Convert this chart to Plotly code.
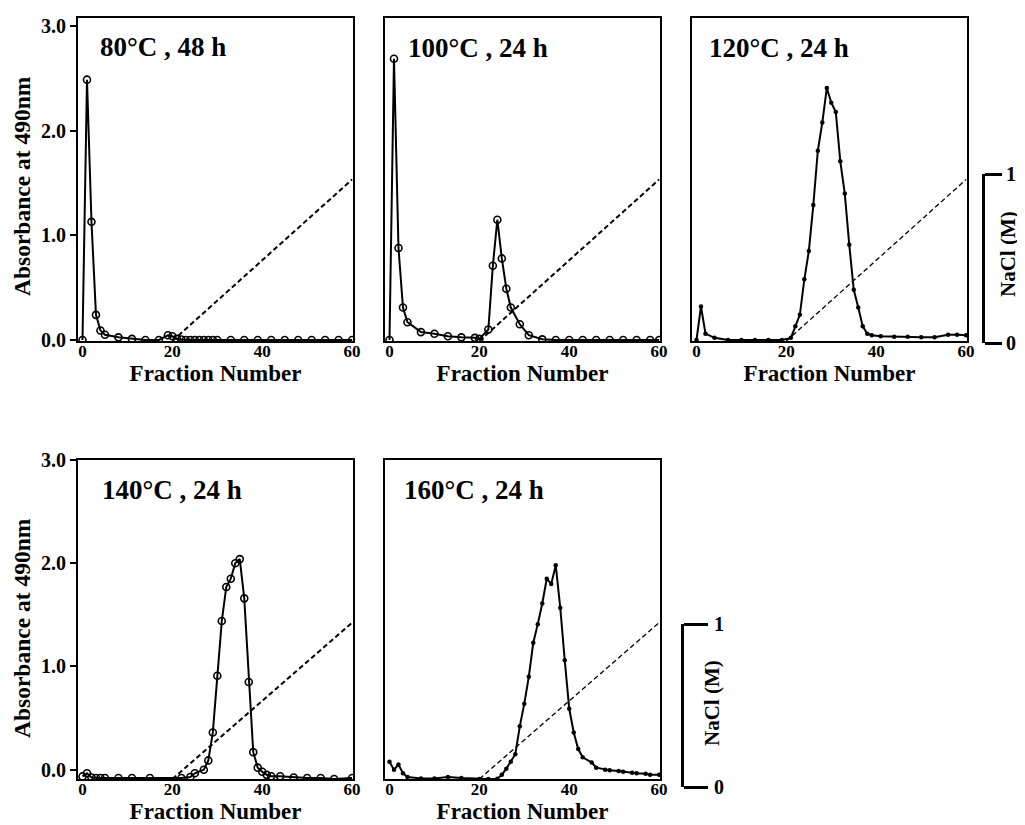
import plotly.graph_objects as go

# ---------------- data ----------------
titles = ["80°C , 48 h", "100°C , 24 h", "120°C , 24 h", "140°C , 24 h", "160°C , 24 h"]

f1 = [0, 1, 2, 3, 4, 5, 8, 11, 14, 17, 19, 20, 21, 22, 23, 24, 25, 26, 27, 28, 29, 30,
      33, 36, 39, 42, 45, 48, 51, 54, 57, 60]
a1 = [0.0, 2.49, 1.13, 0.24, 0.09, 0.05, 0.025, 0.01, 0.0, 0.0, 0.045, 0.035, 0.01, 0.005,
      0.0, 0.0, 0.0, 0.0, 0.0, 0.0, 0.0, 0.0, 0.0, 0.0, 0.0, 0.0, 0.0, 0.0, 0.0, 0.0, 0.0, 0.0]

f2 = [0, 1, 2, 3, 4, 7, 10, 13, 16, 19, 20, 22, 23, 24, 25, 26, 27, 29, 31, 34,
      37, 40, 43, 46, 49, 52, 55, 58, 60]
a2 = [0.0, 2.69, 0.88, 0.31, 0.17, 0.075, 0.06, 0.035, 0.025, 0.02, 0.01,
      0.10, 0.71, 1.15, 0.78, 0.49, 0.31, 0.15, 0.045, 0.006,
      0.0, 0.0, 0.0, 0.0, 0.0, 0.0, 0.0, 0.0, 0.0]

f3 = [0, 1, 2, 4, 7, 10, 13, 16, 19, 21, 22, 23, 24, 25, 26, 27, 28, 29, 30, 31, 32, 33,
      34, 35, 36, 37, 38, 39, 41, 44, 47, 50, 53, 56, 58, 60]
a3 = [0.0, 0.32, 0.06, 0.02, 0.0, 0.0, 0.0, 0.0, 0.0,
      0.02, 0.13, 0.24, 0.58, 0.85, 1.29, 1.81, 2.08, 2.41, 2.27, 2.18, 1.71, 1.40,
      0.91, 0.48, 0.31, 0.13, 0.06, 0.045,
      0.036, 0.03, 0.03, 0.025, 0.025, 0.05, 0.05, 0.045]

f4 = [0, 1, 2, 3, 4, 5, 8, 11, 15, 22, 24, 25, 27, 28, 29, 30, 31, 32, 33, 34, 35, 36,
      37, 38, 39, 40, 41, 42, 44, 47, 50, 53, 56, 60]
a4 = [-0.065, -0.035, -0.075, -0.08, -0.08, -0.08, -0.08, -0.08, -0.08, -0.08,
      -0.07, -0.035, 0.0, 0.09, 0.36, 0.91, 1.44, 1.77, 1.85, 2.0, 2.04, 1.66,
      0.85, 0.17, 0.02, -0.02, -0.05, -0.064, -0.064, -0.075, -0.08, -0.08, -0.09, -0.08]

f5 = [0, 1, 2, 3, 4, 7, 10, 13, 16, 20, 22, 24, 25, 26, 27, 28, 29, 30, 31, 32, 33, 34,
      35, 36, 37, 38, 39, 40, 41, 42, 43, 45, 46, 48, 49, 51, 52, 54, 55, 57, 58, 60]
a5 = [0.076, 0.0, 0.05, -0.035, -0.07, -0.085, -0.085, -0.07, -0.08, -0.09, -0.09,
      -0.087, -0.05, 0.01, 0.076, 0.15, 0.42, 0.64, 0.90, 1.23, 1.41, 1.61, 1.85,
      1.80, 1.98, 1.57, 1.06, 0.59, 0.36, 0.20, 0.12,
      0.07, 0.02, 0.0, -0.006, -0.012, -0.02, -0.03, -0.035, -0.04, -0.05, -0.05]

# NaCl linear gradient (fraction number -> M)
grad_frac = [20, 60]
grad_nacl = [0, 1]

x_ticks = [0, 20, 40, 60]
y_ticks = [0, 1, 2, 3]
y_ticktext = ["0.0", "1.0", "2.0", "3.0"]
nacl_ticks = [0, 1]
nacl_ticktext = ["0", "1"]

fracs = [f1, f2, f3, f4, f5]
absb = [a1, a2, a3, a4, a5]
marker_open = [True, True, False, True, False]
dash_w = [2, 2, 1.3, 2, 1.3]

# ---------------- layout geometry ----------------
# the page body has an 8px margin, so the figure is drawn from (8, 8)
OFF = 8
W, H = 1025 - OFF, 825 - OFF
def px_x(p): return (p - OFF) / W
def px_y(p): return 1 - (p - OFF) / H

col_dom = [(78, 353), (385, 660), (692, 967)]
top_row = (18, 341)
bot_row = (460, 779)
panel_pos = [(0, top_row), (1, top_row), (2, top_row), (0, bot_row), (1, bot_row)]

FONT = "Liberation Serif"
fig = go.Figure()

for i in range(5):
    n = i + 1
    xa = "x" if n == 1 else f"x{n}"
    ya = "y" if n == 1 else f"y{n}"
    yn = f"y{n + 5}"
    # gradient (dashed) on NaCl axis
    fig.add_trace(go.Scatter(
        x=grad_frac, y=grad_nacl, xaxis=xa, yaxis=yn, mode="lines",
        line=dict(color="black", width=dash_w[i], dash="5px,3px"),
        showlegend=False, hoverinfo="skip"))
    if marker_open[i]:
        mk = dict(symbol="circle-open", size=7, color="black", line=dict(width=1.6, color="black"))
    else:
        mk = dict(symbol="circle", size=4.5, color="black")
    fig.add_trace(go.Scatter(
        x=fracs[i], y=absb[i], xaxis=xa, yaxis=ya, mode="lines+markers",
        line=dict(color="black", width=2), marker=mk, showlegend=False))

# bracket (NaCl scale) subplots
fig.add_trace(go.Scatter(x=[], y=[], xaxis="x6", yaxis="y11", showlegend=False, hoverinfo="skip"))
fig.add_trace(go.Scatter(x=[], y=[], xaxis="x7", yaxis="y12", showlegend=False, hoverinfo="skip"))

layout = dict(
    width=W, height=H,
    margin=dict(l=0, r=0, t=0, b=0),
    paper_bgcolor="white", plot_bgcolor="white",
    template="none",
    font=dict(family=FONT, color="black", size=18, weight="bold"),
    showlegend=False,
)

for i, (c, row) in enumerate(panel_pos):
    n = i + 1
    xk = "xaxis" if n == 1 else f"xaxis{n}"
    yk = "yaxis" if n == 1 else f"yaxis{n}"
    ya = "y" if n == 1 else f"y{n}"
    xa = "x" if n == 1 else f"x{n}"
    x0, x1 = col_dom[c]
    ytop, ybot = row
    is_top = row == top_row
    layout[xk] = dict(
        domain=[px_x(x0), px_x(x1)], anchor=ya, range=[-1, 60.2],
        tickvals=x_ticks, ticks="", showgrid=False, zeroline=False,
        showline=True, mirror=True, linecolor="black", linewidth=2,
        ticklabelstandoff=-6,
        tickfont=dict(family=FONT, size=17, weight="bold"),
        title=dict(text="Fraction Number", standoff=4,
                   font=dict(family=FONT, size=23, weight="bold")),
    )
    yd = dict(
        domain=[px_y(ybot), px_y(ytop)], anchor=xa,
        range=[-0.01, 3.08] if is_top else [-0.09, 3.0],
        showgrid=False, zeroline=False,
        showline=True, mirror=True, linecolor="black", linewidth=2,
    )
    if c == 0:
        yd.update(tickvals=y_ticks, ticktext=y_ticktext, ticks="outside", ticklen=6,
                  tickwidth=2, tickcolor="black",
                  tickfont=dict(family=FONT, size=20, weight="bold"))
    else:
        yd.update(showticklabels=False, ticks="")
    layout[yk] = yd
    # hidden NaCl overlay axis
    layout[f"yaxis{n + 5}"] = dict(
        overlaying=ya, anchor=xa, range=[0, 2.0] if is_top else [0, 2.04],
        visible=False, showgrid=False, zeroline=False)

# bracket axes for NaCl (M)
layout["xaxis6"] = dict(domain=[px_x(974), px_x(982)], range=[0, 1], visible=False, anchor="y11")
layout["yaxis11"] = dict(
    domain=[px_y(343), px_y(174)], range=[0, 1], anchor="x6", side="right",
    showline=True, linewidth=3, linecolor="black", showgrid=False, zeroline=False,
    tickvals=nacl_ticks, ticktext=nacl_ticktext, ticks="outside", ticklen=17,
    tickwidth=3, tickcolor="black", ticklabelstandoff=0,
    tickfont=dict(family=FONT, size=20, weight="bold"))
layout["xaxis7"] = dict(domain=[px_x(673), px_x(681)], range=[0, 1], visible=False, anchor="y12")
layout["yaxis12"] = dict(
    domain=[px_y(787), px_y(624)], range=[0, 1], anchor="x7", side="right",
    showline=True, linewidth=3, linecolor="black", showgrid=False, zeroline=False,
    tickvals=nacl_ticks, ticktext=nacl_ticktext, ticks="outside", ticklen=24,
    tickwidth=3, tickcolor="black", ticklabelstandoff=2,
    tickfont=dict(family=FONT, size=20, weight="bold"))

fig.update_layout(**layout)

# panel titles
title_pos = [(98, 47), (406, 48), (707, 48), (100, 490), (402, 490)]
for i, (tx, ty) in enumerate(title_pos):
    fig.add_annotation(text=titles[i], x=px_x(tx), y=px_y(ty), xref="paper", yref="paper",
                       xanchor="left", yanchor="middle", showarrow=False,
                       font=dict(family=FONT, size=27, weight="bold"))

# y-axis titles (Absorbance) for the two rows
for ty in (186, 628):
    fig.add_annotation(text="Absorbance at 490nm", x=px_x(22), y=px_y(ty),
                       xref="paper", yref="paper", textangle=-90, showarrow=False,
                       xanchor="center", yanchor="middle",
                       font=dict(family=FONT, size=23.5, weight="bold"))

# NaCl (M) labels by the brackets
for (ax, ay) in [(1008, 254), (712, 703)]:
    fig.add_annotation(text="NaCl (M)", x=px_x(ax), y=px_y(ay), xref="paper", yref="paper",
                       textangle=-90, showarrow=False, xanchor="center", yanchor="middle",
                       font=dict(family=FONT, size=21, weight="bold"))

fig.write_html("out.html")
